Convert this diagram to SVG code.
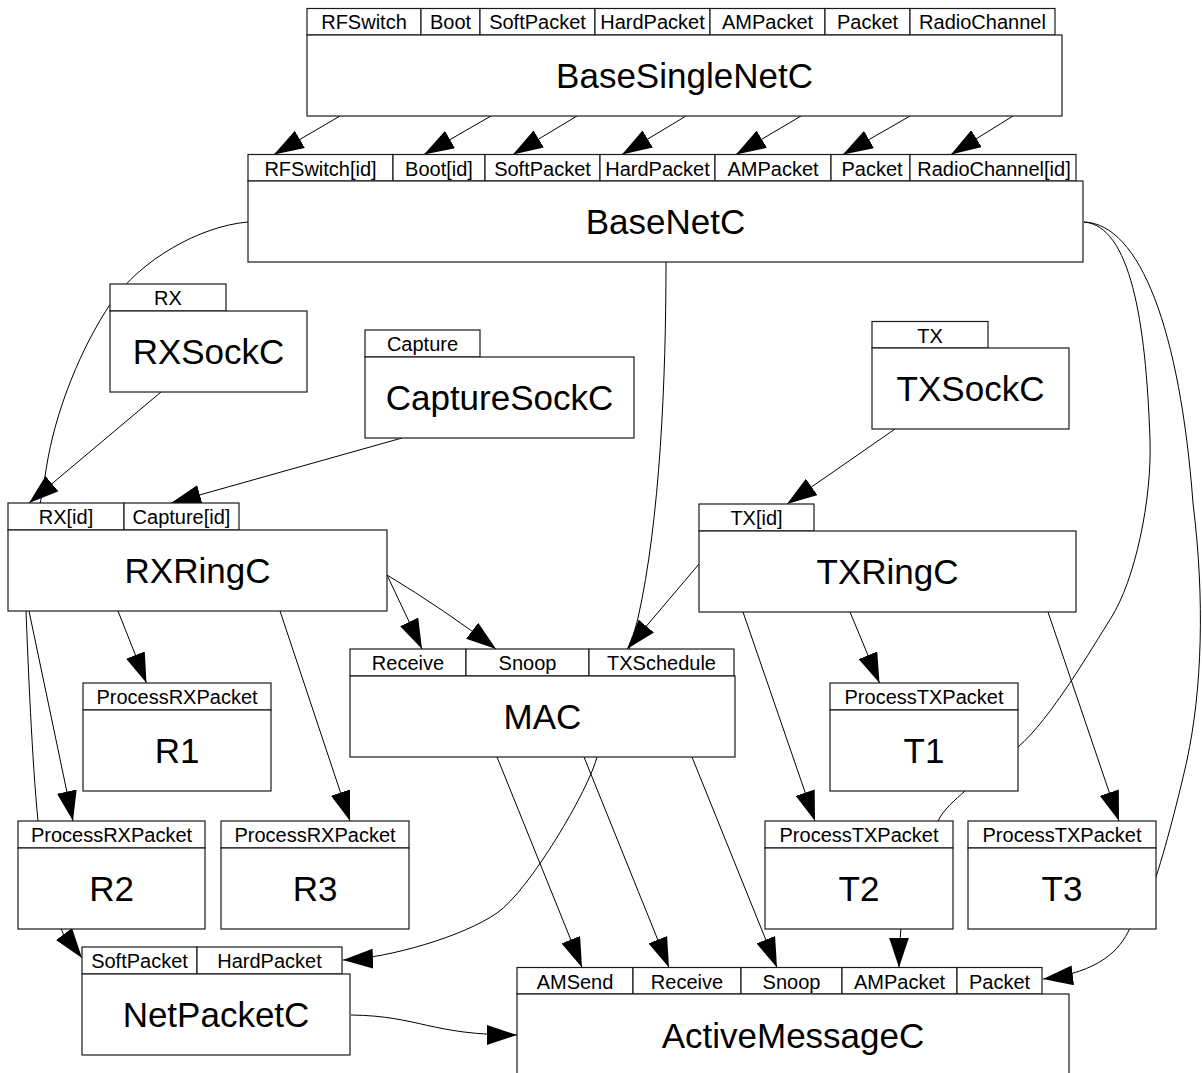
<svg xmlns="http://www.w3.org/2000/svg" width="1202" height="1073" viewBox="0 0 1202 1073">
  <style>
    .tab, .box { fill: #ffffff; stroke: #1a1a1a; stroke-width: 1.2; }
    .tl { font-family: "Liberation Sans", Arial, sans-serif; font-size: 20px; text-anchor: middle; fill: #000; }
    .ml { font-family: "Liberation Sans", Arial, sans-serif; font-size: 35px; text-anchor: middle; fill: #000; }
    .c { fill: none; stroke: #000; stroke-width: 1; }
    .a { marker-end: url(#ah); }
  </style>
  <defs>
    <marker id="ah" markerUnits="userSpaceOnUse" markerWidth="30" markerHeight="20" refX="30" refY="10" orient="auto">
      <path d="M0,0 L30,10 L0,20 Z" fill="#000"/>
    </marker>
  </defs>
  <rect width="1202" height="1073" fill="#ffffff"/>

  <!-- wiring between components (drawn first so boxes cover hidden runs) -->
  <g id="connectors">
    <!-- BaseSingleNetC -> BaseNetC -->
    <path class="c a" d="M340,116 L274,154.5"/>
    <path class="c a" d="M491,116 L424,154.5"/>
    <path class="c a" d="M577,116 L513,154.5"/>
    <path class="c a" d="M686,116 L622,154.5"/>
    <path class="c a" d="M801,116 L736,154.5"/>
    <path class="c a" d="M910,116 L843,154.5"/>
    <path class="c a" d="M1013,116 L951,154.5"/>
    <!-- sockets -> rings -->
    <path class="c a" d="M161,392 L29,503"/>
    <path class="c a" d="M402,438 L171,503"/>
    <path class="c a" d="M895,429 L787,504"/>
    <!-- TXRingC -> MAC.TXSchedule -->
    <path class="c a" d="M699,564 L627,649"/>
    <!-- RXRingC outgoing -->
    <path class="c a" d="M118,611 L146.5,683"/>
    <path class="c a" d="M29,611 L73,821"/>
    <path class="c a" d="M280,611 L350,821"/>
    <path class="c a" d="M387,575 L422,649"/>
    <path class="c a" d="M387,575 Q445,610 496,649"/>
    <!-- TXRingC outgoing -->
    <path class="c a" d="M850,612 L879.5,683"/>
    <path class="c a" d="M743,612 L815,821"/>
    <path class="c a" d="M1048,612 L1119,821"/>
    <!-- MAC -> ActiveMessageC -->
    <path class="c a" d="M497,757 L582,967.5"/>
    <path class="c a" d="M584,757 L669,967.5"/>
    <path class="c a" d="M692,757 L777,967.5"/>
    <!-- NetPacketC -> ActiveMessageC -->
    <path class="c a" d="M351,1015 C420,1016 430,1035 517,1035"/>
    <!-- BaseNetC.SoftPacket -> NetPacketC.SoftPacket -->
    <path class="c a" d="M248,222 C200,226 140,260 111,303 C82,346 55,410 46,470 C37,530 24,560 26,611 C28,662 32,760 38,821 C44,882 55,910 61,928 C67,946 76,950 82,958"/>
    <!-- BaseNetC.HardPacket -> NetPacketC.HardPacket -->
    <path class="c a" d="M666,262 C666,380 660,520 638,618 C631,647 605,725 597,757 C589,789 530,890 497,913 C464,936 390,958 343,960"/>
    <!-- BaseNetC.AMPacket -> ActiveMessageC.AMPacket -->
    <path class="c a" d="M1084,222 C1130,226 1146,320 1150,440 C1152,500 1135,580 1111,618 C1092,648 1050,720 1018,747 C990,770 975,780 965,791 C955,800 943,810 938,821 C930,840 902,900 901,928 C900,940 899,955 899,967.5"/>
    <!-- BaseNetC.Packet -> ActiveMessageC.Packet -->
    <path class="c a" d="M1084,222 C1140,224 1180,330 1193,503 C1205,600 1202,690 1187,760 C1182,783 1168,840 1156,877 C1150,895 1140,915 1130,928 C1120,950 1100,972 1043,979"/>
  </g>

  <g id="BaseSingleNetC">
    <rect class="tab" x="307" y="8.5" width="114" height="26.5"/>
    <rect class="tab" x="421" y="8.5" width="59" height="26.5"/>
    <rect class="tab" x="480" y="8.5" width="115" height="26.5"/>
    <rect class="tab" x="595" y="8.5" width="115" height="26.5"/>
    <rect class="tab" x="710" y="8.5" width="115" height="26.5"/>
    <rect class="tab" x="825" y="8.5" width="85" height="26.5"/>
    <rect class="tab" x="910" y="8.5" width="145" height="26.5"/>
    <text class="tl" x="364" y="29">RFSwitch</text>
    <text class="tl" x="450.5" y="29">Boot</text>
    <text class="tl" x="537.5" y="29">SoftPacket</text>
    <text class="tl" x="652.5" y="29">HardPacket</text>
    <text class="tl" x="767.5" y="29">AMPacket</text>
    <text class="tl" x="867.5" y="29">Packet</text>
    <text class="tl" x="982.5" y="29">RadioChannel</text>
    <rect class="box" x="307" y="35" width="755" height="81"/>
    <text class="ml" x="684.5" y="88">BaseSingleNetC</text>
  </g>

  <g id="BaseNetC">
    <rect class="tab" x="248" y="154.5" width="145" height="26.5"/>
    <rect class="tab" x="393" y="154.5" width="92" height="26.5"/>
    <rect class="tab" x="485" y="154.5" width="115" height="26.5"/>
    <rect class="tab" x="600" y="154.5" width="115" height="26.5"/>
    <rect class="tab" x="715" y="154.5" width="116" height="26.5"/>
    <rect class="tab" x="831" y="154.5" width="79" height="26.5"/>
    <rect class="tab" x="910" y="154.5" width="166" height="26.5"/>
    <text class="tl" x="320.5" y="175.5">RFSwitch[id]</text>
    <text class="tl" x="439" y="175.5">Boot[id]</text>
    <text class="tl" x="542.5" y="175.5">SoftPacket</text>
    <text class="tl" x="657.5" y="175.5">HardPacket</text>
    <text class="tl" x="773" y="175.5">AMPacket</text>
    <text class="tl" x="872" y="175.5">Packet</text>
    <text class="tl" x="994" y="175.5">RadioChannel[id]</text>
    <rect class="box" x="248" y="181" width="835" height="81"/>
    <text class="ml" x="665.5" y="234">BaseNetC</text>
  </g>

  <g id="RXSockC">
    <rect class="tab" x="110" y="284" width="116" height="27"/>
    <text class="tl" x="168" y="305">RX</text>
    <rect class="box" x="110" y="311" width="197" height="81"/>
    <text class="ml" x="208.5" y="364">RXSockC</text>
  </g>

  <g id="CaptureSockC">
    <rect class="tab" x="365" y="330" width="115" height="27"/>
    <text class="tl" x="422.5" y="351">Capture</text>
    <rect class="box" x="365" y="357" width="269" height="81"/>
    <text class="ml" x="499.5" y="410">CaptureSockC</text>
  </g>

  <g id="TXSockC">
    <rect class="tab" x="872" y="321.5" width="116" height="26.5"/>
    <text class="tl" x="930" y="342.5">TX</text>
    <rect class="box" x="872" y="348" width="197" height="81"/>
    <text class="ml" x="970.5" y="401">TXSockC</text>
  </g>

  <g id="RXRingC">
    <rect class="tab" x="8" y="503" width="116" height="27"/>
    <rect class="tab" x="124" y="503" width="115" height="27"/>
    <text class="tl" x="66" y="524">RX[id]</text>
    <text class="tl" x="181.5" y="524">Capture[id]</text>
    <rect class="box" x="8" y="530" width="379" height="81"/>
    <text class="ml" x="197.5" y="583">RXRingC</text>
  </g>

  <g id="TXRingC">
    <rect class="tab" x="699" y="504" width="115" height="27"/>
    <text class="tl" x="756.5" y="525">TX[id]</text>
    <rect class="box" x="699" y="531" width="377" height="81"/>
    <text class="ml" x="887.5" y="584">TXRingC</text>
  </g>

  <g id="MAC">
    <rect class="tab" x="350" y="649" width="116" height="27"/>
    <rect class="tab" x="466" y="649" width="123" height="27"/>
    <rect class="tab" x="589" y="649" width="145" height="27"/>
    <text class="tl" x="408" y="670">Receive</text>
    <text class="tl" x="527.5" y="670">Snoop</text>
    <text class="tl" x="661.5" y="670">TXSchedule</text>
    <rect class="box" x="350" y="676" width="385" height="81"/>
    <text class="ml" x="542.5" y="729">MAC</text>
  </g>

  <g id="R1">
    <rect class="tab" x="83" y="683" width="188" height="27"/>
    <text class="tl" x="177" y="704">ProcessRXPacket</text>
    <rect class="box" x="83" y="710" width="188" height="81"/>
    <text class="ml" x="177" y="763">R1</text>
  </g>

  <g id="T1">
    <rect class="tab" x="830" y="683" width="188" height="27"/>
    <text class="tl" x="924" y="704">ProcessTXPacket</text>
    <rect class="box" x="830" y="710" width="188" height="81"/>
    <text class="ml" x="924" y="763">T1</text>
  </g>

  <g id="R2">
    <rect class="tab" x="18" y="821" width="187" height="27"/>
    <text class="tl" x="111.5" y="842">ProcessRXPacket</text>
    <rect class="box" x="18" y="848" width="187" height="81"/>
    <text class="ml" x="111.5" y="901">R2</text>
  </g>

  <g id="R3">
    <rect class="tab" x="221" y="821" width="188" height="27"/>
    <text class="tl" x="315" y="842">ProcessRXPacket</text>
    <rect class="box" x="221" y="848" width="188" height="81"/>
    <text class="ml" x="315" y="901">R3</text>
  </g>

  <g id="T2">
    <rect class="tab" x="765" y="821" width="188" height="27"/>
    <text class="tl" x="859" y="842">ProcessTXPacket</text>
    <rect class="box" x="765" y="848" width="188" height="81"/>
    <text class="ml" x="859" y="901">T2</text>
  </g>

  <g id="T3">
    <rect class="tab" x="968" y="821" width="188" height="27"/>
    <text class="tl" x="1062" y="842">ProcessTXPacket</text>
    <rect class="box" x="968" y="848" width="188" height="81"/>
    <text class="ml" x="1062" y="901">T3</text>
  </g>

  <g id="NetPacketC">
    <rect class="tab" x="82" y="947" width="115" height="27"/>
    <rect class="tab" x="197" y="947" width="145" height="27"/>
    <text class="tl" x="139.5" y="968">SoftPacket</text>
    <text class="tl" x="269.5" y="968">HardPacket</text>
    <rect class="box" x="82" y="974" width="268" height="81"/>
    <text class="ml" x="216" y="1027">NetPacketC</text>
  </g>

  <g id="ActiveMessageC">
    <rect class="tab" x="517" y="967.5" width="116" height="26.5"/>
    <rect class="tab" x="633" y="967.5" width="108" height="26.5"/>
    <rect class="tab" x="741" y="967.5" width="101" height="26.5"/>
    <rect class="tab" x="842" y="967.5" width="115" height="26.5"/>
    <rect class="tab" x="957" y="967.5" width="85" height="26.5"/>
    <text class="tl" x="575" y="988.5">AMSend</text>
    <text class="tl" x="687" y="988.5">Receive</text>
    <text class="tl" x="791.5" y="988.5">Snoop</text>
    <text class="tl" x="899.5" y="988.5">AMPacket</text>
    <text class="tl" x="999.5" y="988.5">Packet</text>
    <rect class="box" x="517" y="994" width="552" height="82"/>
    <text class="ml" x="793" y="1047.5">ActiveMessageC</text>
  </g>
</svg>
